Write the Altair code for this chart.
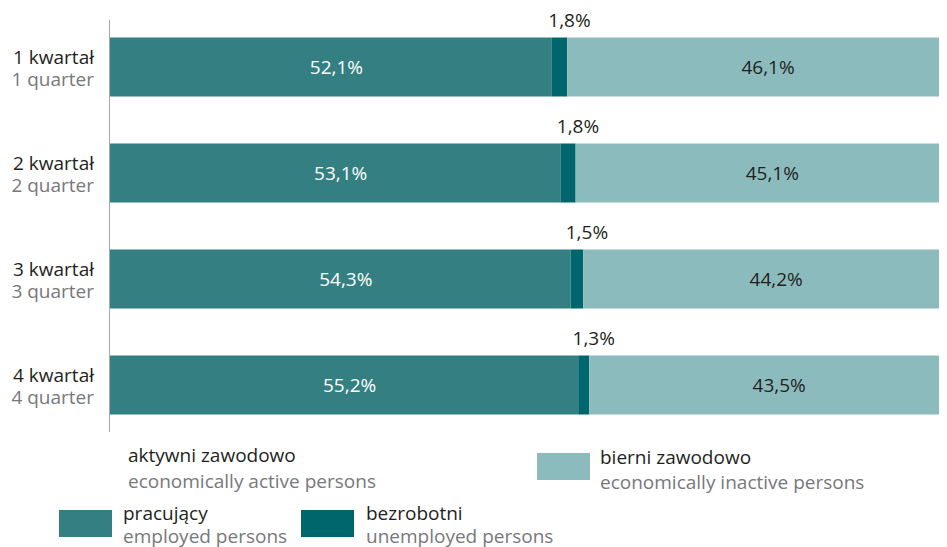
import altair as alt
import pandas as pd

quarters_pl = ["1 kwartał", "2 kwartał", "3 kwartał", "4 kwartał"]
quarters_en = ["1 quarter", "2 quarter", "3 quarter", "4 quarter"]
employed = [52.1, 53.1, 54.3, 55.2]
unemployed = [1.8, 1.8, 1.5, 1.3]
inactive = [46.1, 45.1, 44.2, 43.5]
statuses = ["pracujący", "bezrobotni", "bierni zawodowo"]
statuses_en = ["employed persons", "unemployed persons", "economically inactive persons"]
group_pl = ["aktywni zawodowo"]
group_en = ["economically active persons"]
colors = ["#337f82", "#00666e", "#8cbbbd"]

FONT = "Open Sans"
FS = 19
DARK = "#231f20"
GREY = "#77787b"


def fmt(v):
    return f"{v:.1f}".replace(".", ",") + "%"


rows = []
for i, q in enumerate(quarters_pl):
    start = 0.0
    for s, vals in zip(statuses, [employed, unemployed, inactive]):
        v = vals[i]
        rows.append({"q": q, "status": s, "start": start, "end": start + v,
                     "mid": start + v / 2, "label": fmt(v)})
        start += v
df = pd.DataFrame(rows)
dq = pd.DataFrame({"q": quarters_pl, "en": quarters_en})

yenc = alt.Y("q:N", scale=alt.Scale(domain=quarters_pl, paddingInner=0.443, paddingOuter=0.2215), axis=None)
xscale = alt.Scale(domain=[0, 830 / 8.5], clamp=True, nice=False, zero=False)

base = alt.Chart(df)

bars = base.mark_bar(clip=True).encode(
    x=alt.X("start:Q", scale=xscale, axis=None),
    x2="end:Q",
    y=yenc,
    color=alt.Color("status:N", scale=alt.Scale(domain=statuses, range=colors), legend=None),
)

lab_emp = base.transform_filter(alt.datum.status == statuses[0]).mark_text(
    font=FONT, fontSize=FS, color="white", baseline="middle", dx=6, dy=1
).encode(x=alt.X("mid:Q", scale=xscale), y=yenc, text="label:N")

lab_inact = base.transform_filter(alt.datum.status == statuses[2]).mark_text(
    font=FONT, fontSize=FS, color=DARK, baseline="middle", dx=5, dy=1
).encode(x=alt.X("mid:Q", scale=xscale), y=yenc, text="label:N")

lab_unemp = base.transform_filter(alt.datum.status == statuses[1]).mark_text(
    font=FONT, fontSize=FS, color=DARK, baseline="middle", dx=10, dy=-46
).encode(x=alt.X("mid:Q", scale=xscale), y=yenc, text="label:N")

qbase = alt.Chart(dq)
ylab_pl = qbase.mark_text(font=FONT, fontSize=FS, color=DARK, align="right",
                          baseline="alphabetic", dy=-3).encode(
    x=alt.value(-15), y=yenc, text="q:N")
ylab_en = qbase.mark_text(font=FONT, fontSize=FS, color=GREY, align="right",
                          baseline="alphabetic", dy=19).encode(
    x=alt.value(-15), y=yenc, text="en:N")

axis_line = alt.Chart(dq).mark_rule(color="#a7a9ac", strokeWidth=1).encode(
    x=alt.value(0.5), y=alt.value(6), y2=alt.value(418))


def legend_text(txt, x, y, color):
    return alt.Chart(pd.DataFrame({"t": [txt]})).mark_text(
        font=FONT, fontSize=FS, color=color, align="left", baseline="alphabetic"
    ).encode(x=alt.value(x), y=alt.value(y), text="t:N")


def swatch(color, x, y):
    return alt.Chart(pd.DataFrame({"c": [color]})).mark_rect(color=color).encode(
        x=alt.value(x), x2=alt.value(x + 53), y=alt.value(y), y2=alt.value(y + 27))


legend = [
    legend_text(group_pl[0], 19, 448, DARK),
    legend_text(group_en[0], 19, 474, GREY),
    swatch(colors[0], -50, 496),
    legend_text(statuses[0], 14, 506, DARK),
    legend_text(statuses_en[0], 14, 529, GREY),
    swatch(colors[1], 192, 496),
    legend_text(statuses[1], 257, 506, DARK),
    legend_text(statuses_en[1], 257, 529, GREY),
    swatch(colors[2], 428, 439),
    legend_text(statuses[2], 491, 450, DARK),
    legend_text(statuses_en[2], 491, 475, GREY),
]

chart = alt.layer(bars, lab_emp, lab_inact, lab_unemp, ylab_pl, ylab_en, axis_line, *legend).properties(
    width=830, height=424,
    autosize=alt.AutoSizeParams(type="none"),
    padding={"left": 101, "top": 6, "right": 0, "bottom": 109},
).configure_view(stroke=None)

chart.save("out.html", embed_options={"renderer": "svg", "actions": False})
